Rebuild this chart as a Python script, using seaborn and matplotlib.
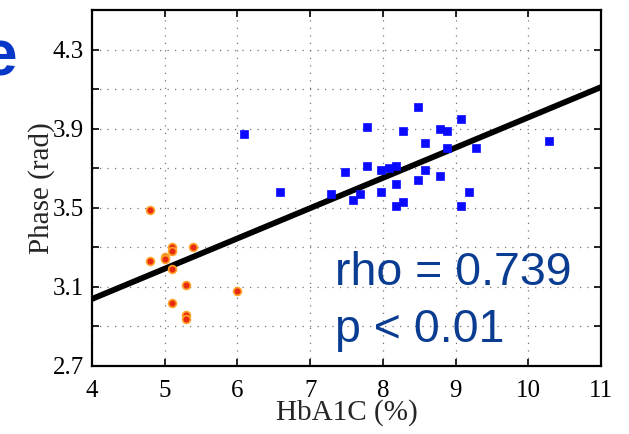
import numpy as np
import pandas as pd
import matplotlib
matplotlib.use("Agg")
import matplotlib.pyplot as plt
import seaborn as sns

# Data
blue_x = [6.09, 6.59, 7.29, 7.48, 7.59, 7.69, 7.78, 7.78, 7.98, 7.98, 8.09, 8.18, 8.18,
          8.18, 8.28, 8.28, 8.48, 8.48, 8.58, 8.58, 8.78, 8.78, 8.88, 8.88, 9.08, 9.08,
          9.18, 9.28, 10.28]
blue_y = [3.875, 3.58, 3.57, 3.68, 3.54, 3.57, 3.91, 3.71, 3.69, 3.58, 3.70, 3.71, 3.62,
          3.51, 3.89, 3.53, 4.01, 3.64, 3.83, 3.69, 3.90, 3.66, 3.89, 3.80, 3.95, 3.51,
          3.58, 3.80, 3.84]
red_x = [4.80, 4.80, 5.00, 5.00, 5.10, 5.10, 5.10, 5.39, 5.29, 5.10, 5.29, 5.29, 5.99]
red_y = [3.49, 3.23, 3.25, 3.24, 3.30, 3.28, 3.19, 3.30, 3.11, 3.02, 2.96, 2.94, 3.08]

# fitted line shown in the figure (slope, intercept)
fit_slope = 0.153
fit_intercept = 2.427

x_ticks = [4, 5, 6, 7, 8, 9, 10, 11]
y_ticks = [2.7, 3.1, 3.5, 3.9, 4.3]
y_minor = [2.9, 3.3, 3.7, 4.1]
stat_lines = ["rho = 0.739", "p < 0.01"]

sns.set_style("white")
plt.rcParams["font.family"] = ["Liberation Serif", "DejaVu Serif"]

fig = plt.figure(figsize=(6.29, 4.34), dpi=100)
ax = fig.add_axes([92 / 629, 68 / 434, 509 / 629, 356 / 434])
ax.set_xlim(4, 11)
ax.set_ylim(2.7, 4.5)

# grid
all_y = sorted(y_ticks + y_minor)
ax.set_xticks(x_ticks)
ax.set_yticks(all_y)
ax.set_yticklabels([f"{v:.1f}" if v in y_ticks else "" for v in all_y])
ax.grid(True, linestyle=(0, (1, 5)), color="#777777", linewidth=0.9)
ax.set_axisbelow(True)

# regression line across the x range
line_x = np.array(ax.get_xlim())
line_df = pd.DataFrame({"x": line_x, "y": fit_intercept + fit_slope * line_x})
sns.lineplot(data=line_df, x="x", y="y", color="black", linewidth=4.2, ax=ax, zorder=2)

sns.scatterplot(x=red_x, y=red_y, marker="o", s=32, color="#e82a10",
                edgecolor="#ffa52a", linewidth=1.2, ax=ax, zorder=3)
sns.scatterplot(x=blue_x, y=blue_y, marker="s", s=26, color="#0a0aff",
                edgecolor="#0a0aff", linewidth=0.5, ax=ax, zorder=3)

ax.set_xlim(4, 11)
ax.set_ylim(2.7, 4.5)

for sp in ax.spines.values():
    sp.set_color("black")
    sp.set_linewidth(1.6)

ax.tick_params(axis="both", which="both", direction="in", length=5, width=1.2,
               top=True, right=True, bottom=True, left=True, labelsize=18,
               colors="black")
ax.tick_params(axis="x", pad=10)
ax.tick_params(axis="y", pad=6)

ax.set_xlabel("HbA1C (%)", fontsize=21, labelpad=-2)
ax.set_ylabel("Phase (rad)", fontsize=21, labelpad=-2)

ax.text(7.34, 3.11, stat_lines[0], fontsize=33.5, color="#0a3d91",
        family=["Liberation Sans", "DejaVu Sans"], va="baseline", ha="left")
ax.text(7.34, 2.82, stat_lines[1], fontsize=33.5, color="#0a3d91",
        family=["Liberation Sans", "DejaVu Sans"], va="baseline", ha="left")

fig.text(17 / 629, 1 - 76 / 434, "e", fontsize=46, color="#0838c8",
         family=["Liberation Sans", "DejaVu Sans"], ha="right", va="baseline",
         fontweight="bold")

fig.savefig("out.png", dpi=100)
